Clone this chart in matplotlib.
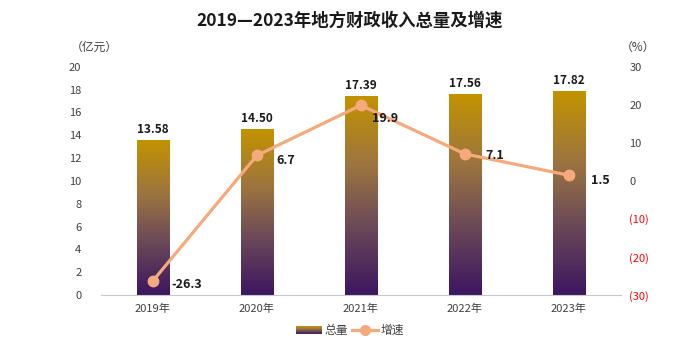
import matplotlib
matplotlib.use("Agg")
import matplotlib.pyplot as plt
import numpy as np
from matplotlib.legend_handler import HandlerBase
from matplotlib.patches import Rectangle
from matplotlib.lines import Line2D
from matplotlib.colors import LinearSegmentedColormap

plt.rcParams['font.family'] = ['Noto Sans CJK SC', 'DejaVu Sans']

years = ['2019年', '2020年', '2021年', '2022年', '2023年']
total = [13.58, 14.50, 17.39, 17.56, 17.82]
growth = [-26.3, 6.7, 19.9, 7.1, 1.5]

cmap = LinearSegmentedColormap.from_list(
    'bar', [(0, '#3C1660'), (0.35, '#6C4A58'), (0.65, '#9C7440'), (1, '#C29300')])
line_color = '#F4AA7C'
bar_w = 0.31

fig = plt.figure(figsize=(7, 3.5), dpi=100)
ax = fig.add_axes([0.144, 0.157, 0.743, 0.652])
x = np.arange(len(years))

grad = np.linspace(0, 1, 256).reshape(-1, 1)
for xi, h in zip(x, total):
    ax.imshow(grad, cmap=cmap, origin='lower', aspect='auto',
              extent=[xi - bar_w / 2, xi + bar_w / 2, 0, h], zorder=2)
    ax.text(xi, h + 0.4, f'{h:.2f}', ha='center', va='bottom',
            fontsize=8.5, fontweight='bold', color='#1a1a1a')

ax.set_xlim(-0.5, len(years) - 0.5)
ax.set_ylim(0, 20)
ax.set_yticks(range(0, 21, 2))
ax.set_xticks(x)
ax.set_xticklabels(years)
ax.tick_params(length=0, labelsize=8, colors='#404040', pad=6)
ax.tick_params(axis='y', pad=14)
for s in ['top', 'right', 'left']:
    ax.spines[s].set_visible(False)
ax.spines['bottom'].set_color('#c8c8c8')

ax2 = ax.twinx()
ax2.plot(x, growth, color=line_color, lw=2.3, marker='o', ms=7.5, zorder=3)
ax2.set_ylim(-30, 30)
ax2.set_yticks(range(-30, 31, 10))
ax2.set_yticklabels([f'({-v})' if v < 0 else str(v) for v in range(-30, 31, 10)])
for lbl, v in zip(ax2.get_yticklabels(), range(-30, 31, 10)):
    lbl.set_color('#FF0000' if v < 0 else '#404040')
ax2.tick_params(length=0, labelsize=8, pad=6)
for s in ax2.spines.values():
    s.set_visible(False)

offsets = [(0.18, -0.8), (0.19, -1.2), (0.11, -3.6), (0.2, -0.3), (0.21, -1.5)]
for xi, g, (dx, dy) in zip(x, growth, offsets):
    ax2.text(xi + dx, g + dy, f'{g}', ha='left', va='center',
             fontsize=9, fontweight='bold', color='#1a1a1a')

fig.text(0.5, 0.94, '2019—2023年地方财政收入总量及增速', ha='center', va='center',
         fontsize=12.5, fontweight='bold', color='#1a1a1a')
fig.text(0.135, 0.865, '（亿元）', ha='center', va='center', fontsize=8.5, color='#404040')
fig.text(0.912, 0.865, '（%）', ha='center', va='center', fontsize=8.5, color='#404040')


class GradientHandler(HandlerBase):
    def create_artists(self, legend, orig_handle, xdescent, ydescent,
                       width, height, fontsize, trans):
        n = 12
        arts = []
        for i in range(n):
            r = Rectangle((xdescent, ydescent + height * i / n), width, height / n + 0.2,
                          facecolor=cmap(i / (n - 1)), edgecolor='none', transform=trans)
            arts.append(r)
        return arts


bar_handle = Rectangle((0, 0), 1, 1)
line_handle = Line2D([], [], color=line_color, lw=2.3, marker='o', ms=7)
fig.legend([bar_handle, line_handle], ['总量', '增速'], loc='center',
           bbox_to_anchor=(0.5, 0.055), ncol=2, frameon=False, fontsize=8.5,
           handler_map={Rectangle: GradientHandler()}, handlelength=2.2,
           columnspacing=0.3, handletextpad=0.2, labelcolor='#404040')

fig.savefig('out.png', dpi=100)
